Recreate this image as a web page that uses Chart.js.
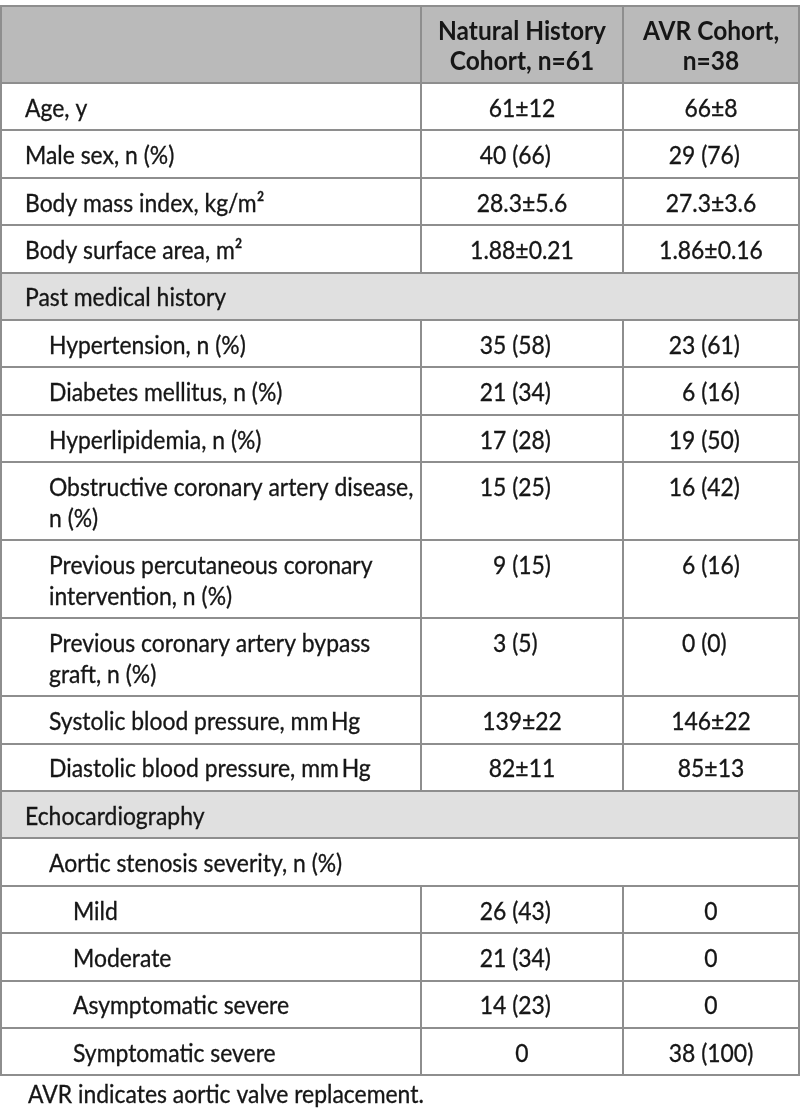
<!DOCTYPE html>
<html>
<head>
<meta charset="utf-8">
<script src="https://cdn.jsdelivr.net/npm/chart.js@4.4.1/dist/chart.umd.min.js"></script>
<style>
html,body{margin:0;padding:0;background:#fff;}
canvas{display:block;}
</style>
</head>
<body>
<canvas id="c" width="800" height="1115"></canvas>
<script>
// ---------- DATA ----------
const FS = '\u2007'; // figure space used for digit alignment
const columnHeaders = [["Natural History", "Cohort, n=61"], ["AVR Cohort,", "n=38"]];
const rowLabels = [
  "Age, y",
  "Male sex, n (%)",
  "Body mass index, kg/m\u00B2",
  "Body surface area, m\u00B2",
  "Past medical history",
  "Hypertension, n (%)",
  "Diabetes mellitus, n (%)",
  "Hyperlipidemia, n (%)",
  "Obstructive coronary artery disease,\nn (%)",
  "Previous percutaneous coronary\nintervention, n (%)",
  "Previous coronary artery bypass\ngraft, n (%)",
  "Systolic blood pressure, mm\u2009Hg",
  "Diastolic blood pressure, mm\u2009Hg",
  "Echocardiography",
  "Aortic stenosis severity, n (%)",
  "Mild",
  "Moderate",
  "Asymptomatic severe",
  "Symptomatic severe"
];
const rowLevels = [0,0,0,0,0,1,1,1,1,1,1,1,1,0,1,2,2,2,2];
const rowTypes = ["value","value","value","value","section","value","value","value","value","value","value","value","value","section","group","value","value","value","value"];
const naturalHistory = ["61\u00B112","40 (66)"+FS,"28.3\u00B15.6","1.88\u00B10.21","","35 (58)"+FS,"21 (34)"+FS,"17 (28)"+FS,"15 (25)"+FS,FS+"9 (15)"+FS,"3 (5)"+FS,"139\u00B122","82\u00B111","","","26 (43)"+FS,"21 (34)"+FS,"14 (23)"+FS,"0"];
const avrCohort = ["66\u00B18","29 (76)"+FS,"27.3\u00B13.6","1.86\u00B10.16","","23 (61)"+FS,FS+"6 (16)"+FS,"19 (50)"+FS,"16 (42)"+FS,FS+"6 (16)"+FS,"0 (0)"+FS,"146\u00B122","85\u00B113","","","0","0","0","38 (100)"];
const footnote = "AVR indicates aortic valve replacement.";

// ---------- LAYOUT ----------
const W = 800, H = 1115;
const colEdges = [0, 420, 622, 798];      // table units (px from table left)
const ROW_PAD = 16.8, LINE_H = 30.6, BASE_OFF = 33.8;
const FONT = 'Lato, "Noto Sans", sans-serif';
const TEXT = '#161616', LINE = '#8e8e8e', HEAD_BG = '#bababa', SEC_BG = '#e0e0e0';
const STRETCH = 1.1;

const headerH = 77;
const rowTop = [], rowBot = [];
let acc = headerH;
rowLabels.forEach((l) => {
  const n = l.split('\n').length;
  rowTop.push(acc);
  acc += ROW_PAD + LINE_H * n;
  rowBot.push(acc);
});
const total = acc;
const TOP = 6;

const canvas = document.getElementById('c');
const mctx = canvas.getContext('2d');
function fit(weight, pairs) {
  let s = 0;
  pairs.forEach(([t, w]) => { mctx.font = weight + ' 100px ' + FONT; s += 100 * w / mctx.measureText(t).width; });
  return s / pairs.length;
}
const bodySize = fit('normal', [["Obstructive coronary artery disease,", 361], ["Systolic blood pressure, mm\u2009Hg", 314]]);
const headSize = fit('bold', [["Natural History", 170], ["Cohort, n=61", 143], ["AVR Cohort,", 136]]);

function drawText(ctx, t, x, y, weightStroke) {
  ctx.save();
  ctx.translate(x, y);
  ctx.scale(1, STRETCH);
  ctx.fillText(t, 0, 0);
  if (weightStroke) { ctx.lineWidth = weightStroke; ctx.strokeStyle = TEXT; ctx.strokeText(t, 0, 0); }
  ctx.restore();
}

const tablePlugin = {
  id: 'tableCells',
  afterDraw(chart) {
    const { ctx, scales: { x, y } } = chart;
    const px = v => Math.round(x.getPixelForValue(v));
    const py = v => Math.round(y.getPixelForValue(v));
    ctx.save();
    // backgrounds
    ctx.fillStyle = HEAD_BG;
    ctx.fillRect(px(0), py(0), px(798) - px(0), py(headerH) - py(0));
    rowLabels.forEach((l, i) => {
      if (rowTypes[i] === 'section') {
        ctx.fillStyle = SEC_BG;
        ctx.fillRect(px(0), py(rowTop[i]), px(798) - px(0), py(rowBot[i]) - py(rowTop[i]));
      }
    });
    // lines
    ctx.strokeStyle = LINE;
    ctx.lineWidth = 2;
    ctx.beginPath();
    const hl = v => { ctx.moveTo(px(0) - 1, py(v)); ctx.lineTo(px(798) + 1, py(v)); };
    hl(0); hl(headerH);
    rowBot.forEach(b => hl(b));
    ctx.moveTo(px(0), py(0)); ctx.lineTo(px(0), py(total));
    ctx.moveTo(px(798), py(0)); ctx.lineTo(px(798), py(total));
    const vl = (t, b) => { [1, 2].forEach(k => { ctx.moveTo(px(colEdges[k]), py(t)); ctx.lineTo(px(colEdges[k]), py(b)); }); };
    vl(0, headerH);
    rowLabels.forEach((l, i) => { if (rowTypes[i] === 'value') vl(rowTop[i], rowBot[i]); });
    ctx.stroke();
    // header text
    ctx.fillStyle = TEXT;
    ctx.textBaseline = 'alphabetic';
    ctx.textAlign = 'center';
    ctx.font = 'bold ' + headSize.toFixed(2) + 'px ' + FONT;
    columnHeaders.forEach((lines, c) => {
      const cx = (x.getPixelForValue(colEdges[c + 1]) + x.getPixelForValue(colEdges[c + 2])) / 2;
      lines.forEach((t, k) => drawText(ctx, t, cx, y.getPixelForValue(0) + BASE_OFF + k * LINE_H, 0));
    });
    // body text
    ctx.font = bodySize.toFixed(2) + 'px ' + FONT;
    rowLabels.forEach((l, i) => {
      const top = y.getPixelForValue(rowTop[i]);
      ctx.textAlign = 'left';
      const lx = x.getPixelForValue(0) + 24 + 24 * rowLevels[i];
      l.split('\n').forEach((t, k) => drawText(ctx, t, lx, top + BASE_OFF + k * LINE_H, 0.3));
      ctx.textAlign = 'center';
      [naturalHistory, avrCohort].forEach((arr, c) => {
        const v = arr[i];
        if (!v) return;
        const cx = (x.getPixelForValue(colEdges[c + 1]) + x.getPixelForValue(colEdges[c + 2])) / 2;
        drawText(ctx, v, cx, top + BASE_OFF, 0.3);
      });
    });
    // footnote
    ctx.textAlign = 'left';
    drawText(ctx, footnote, 28, 1103, 0.3);
    ctx.restore();
  }
};

new Chart(canvas, {
  type: 'scatter',
  data: { datasets: [] },
  options: {
    responsive: false,
    animation: false,
    events: [],
    layout: { padding: { left: 1, right: 1, top: TOP, bottom: H - TOP - total } },
    plugins: { legend: { display: false }, tooltip: { enabled: false } },
    scales: {
      x: { type: 'linear', min: 0, max: 798, display: false },
      y: { type: 'linear', min: 0, max: total, reverse: true, display: false }
    }
  },
  plugins: [tablePlugin]
});
</script>
</body>
</html>
